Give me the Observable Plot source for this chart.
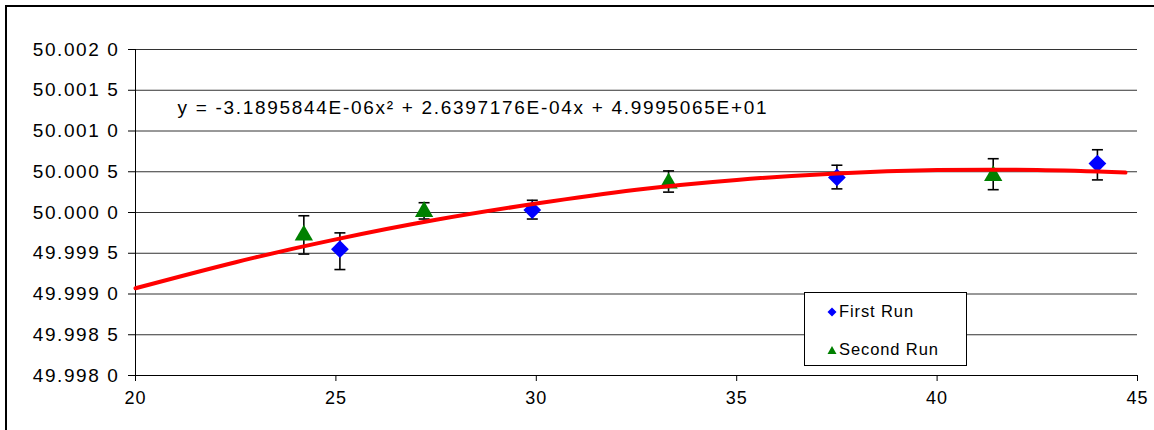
<!DOCTYPE html>
<html><head><meta charset="utf-8">
<script src="https://cdn.jsdelivr.net/npm/d3@7"></script>
<script src="https://cdn.jsdelivr.net/npm/@observablehq/plot@0.6"></script>
<style>
body{margin:0;background:#fff;font-family:"Liberation Sans",Arial,sans-serif;}
#wrap{position:relative;width:1154px;height:430px;overflow:hidden;background:#fff;}
#frame{position:absolute;left:5px;top:5px;width:1170px;height:450px;border-top:2px solid #000;border-left:2px solid #000;}
#chart{position:absolute;left:0;top:0;}
#chart svg [aria-label="y-axis tick label"] text{letter-spacing:1.6px;}
#chart svg [aria-label="x-axis tick label"] text{letter-spacing:1px;}
#legend{position:absolute;left:804px;top:292px;width:161px;height:72px;border:1px solid #000;background:#fff;font-size:16.5px;letter-spacing:0.9px;color:#000;}
.item{position:absolute;left:22px;display:flex;align-items:center;gap:2px;}
</style></head>
<body><div id="wrap"><div id="frame"></div><div id="chart"></div><div id="legend"></div></div>
<script>
// First Run (blue diamonds) with error bars
const firstRunX    = [25.1, 29.9, 37.5, 44.0];
const firstRunY    = [49.99955, 50.00003, 50.00043, 50.00060];
const firstRunLow  = [49.99930, 49.99992, 50.00029, 50.00040];
const firstRunHigh = [49.99975, 50.00015, 50.00058, 50.00077];
// Second Run (green triangles) with error bars
const secondRunX    = [24.2, 27.2, 33.3, 41.4];
const secondRunY    = [49.99972, 50.00001, 50.00036, 50.00045];
const secondRunLow  = [49.99949, 49.99992, 50.00025, 50.00028];
const secondRunHigh = [49.99996, 50.00012, 50.00051, 50.00066];
// Trend curve
const fitX = [20, 22.5, 25, 27.5, 30, 32.5, 35, 37.5, 40, 42.5, 44.7];
const fitY = [49.99907, 49.99939, 49.99967, 49.99991, 50.00011, 50.00028, 50.00040, 50.00048, 50.00052, 50.00052, 50.00049];
const xTicks = [20, 25, 30, 35, 40, 45];
const yTicks = [49.998, 49.9985, 49.999, 49.9995, 50.0, 50.0005, 50.001, 50.0015, 50.002];
const equation = "y = -3.1895844E-06x² + 2.6397176E-04x + 4.9995065E+01";
const seriesNames = ["First Run", "Second Run"];
const seriesColors = ["#0000ff", "#008000"];

const first = firstRunX.map((x, i) => ({x, y: firstRunY[i], lo: firstRunLow[i], hi: firstRunHigh[i]}));
const second = secondRunX.map((x, i) => ({x, y: secondRunY[i], lo: secondRunLow[i], hi: secondRunHigh[i]}));
const fit = fitX.map((x, i) => ({x, y: fitY[i]}));
const both = first.concat(second);

const fmtY = d => { const s = d3.format(".4f")(d); return s.slice(0, -1) + " " + s.slice(-1); };
const cap = {draw(ctx, size) { const w = Math.sqrt(size) / 2; ctx.moveTo(-w, 0); ctx.lineTo(w, 0); }};

const chart = Plot.plot({
  width: 1154, height: 430,
  marginLeft: 135, marginTop: 49, marginRight: 17, marginBottom: 55,
  style: {fontFamily: "'Liberation Sans', Arial, sans-serif", fontSize: "18px", color: "#000", background: "transparent", overflow: "visible"},
  x: {domain: [20, 45]},
  y: {domain: [49.998, 50.002]},
  marks: [
    Plot.ruleY(yTicks, {stroke: "#333", strokeWidth: 1}),
    Plot.ruleX([20], {stroke: "#000", strokeWidth: 1}),
    Plot.ruleY([49.998], {stroke: "#000", strokeWidth: 1}),
    Plot.axisX({ticks: xTicks, tickSize: 6, tickPadding: 10, label: null, tickFormat: d3.format("d"), stroke: "#000", fontSize: 18}),
    Plot.axisY({ticks: yTicks, tickSize: 7, tickPadding: 9, label: null, tickFormat: fmtY, stroke: "#000", fontSize: 19}),
    Plot.ruleX(both, {x: "x", y1: "lo", y2: "hi", stroke: "#000", strokeWidth: 1.6}),
    Plot.dot(both, {x: "x", y: "lo", symbol: cap, r: 6.2, stroke: "#000", strokeWidth: 1.6, fill: "none"}),
    Plot.dot(both, {x: "x", y: "hi", symbol: cap, r: 6.2, stroke: "#000", strokeWidth: 1.6, fill: "none"}),
    Plot.dot(first, {x: "x", y: "y", symbol: "diamond2", r: 8, fill: seriesColors[0], stroke: "none"}),
    Plot.dot(second, {x: "x", y: "y", symbol: "triangle", r: 6.8, fill: seriesColors[1], stroke: "none"}),
    Plot.line(fit, {x: "x", y: "y", stroke: "#ff0000", strokeWidth: 4, curve: "natural"}),
    Plot.text([equation], {frameAnchor: "top-left", lineAnchor: "middle", dx: 42, dy: 58, textAnchor: "start", fontSize: 19, fill: "#000"})
  ]
});
document.getElementById("chart").appendChild(chart);
chart.querySelectorAll('[aria-label="text"] text').forEach(t => t.style.letterSpacing = "1.7px");

// legend
const legend = document.getElementById("legend");
const shapes = [
  '<svg width="10" height="10"><path d="M5,0.5L9.5,5L5,9.5L0.5,5Z" fill="#0000ff"/></svg>',
  '<svg width="10" height="10"><path d="M5,1L9.5,9L0.5,9Z" fill="#008000"/></svg>'
];
seriesNames.forEach((name, i) => {
  const it = document.createElement("div");
  it.className = "item";
  it.style.top = (i === 0 ? 9 : 47) + "px";
  it.innerHTML = shapes[i] + "<span>" + name + "</span>";
  legend.appendChild(it);
});
</script>
</body></html>
